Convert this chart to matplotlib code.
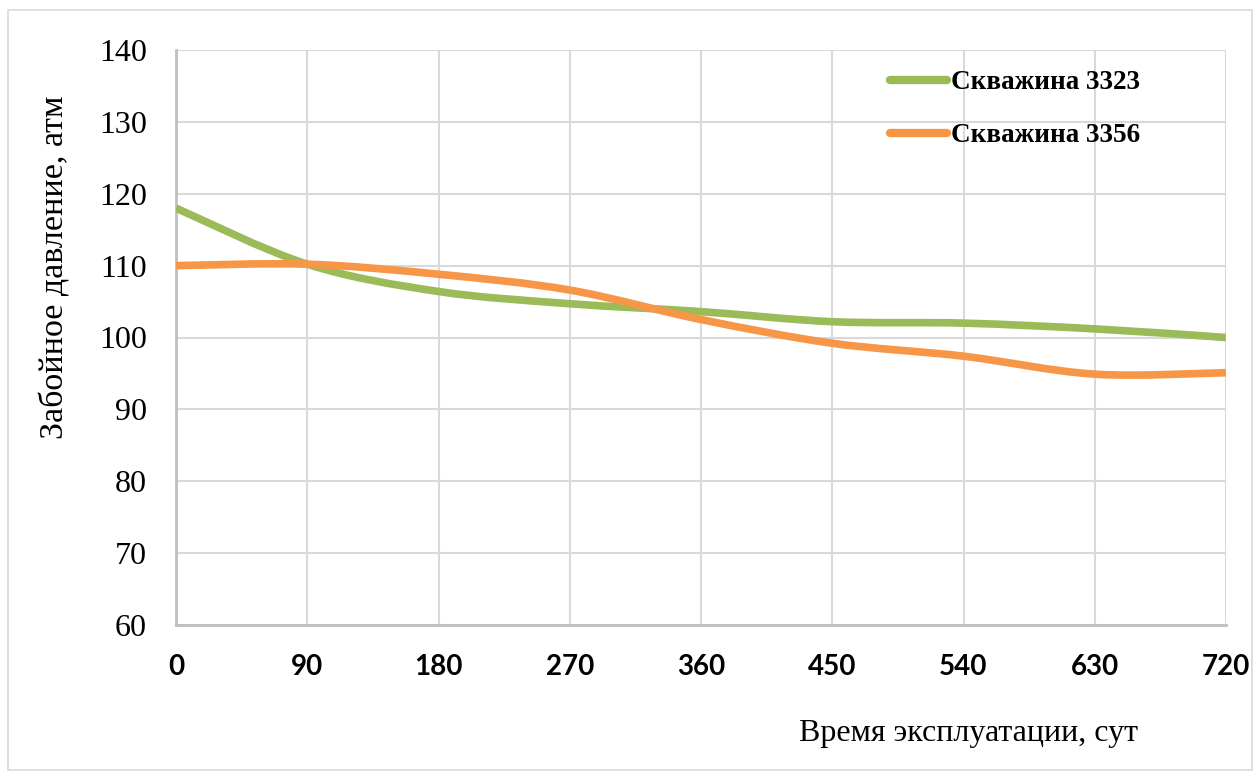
import numpy as np
import matplotlib
matplotlib.use('Agg')
import matplotlib.pyplot as plt
from matplotlib.path import Path
from matplotlib.patches import PathPatch, Rectangle
from matplotlib.lines import Line2D

# time, days
days = [0, 90, 180, 270, 360, 450, 540, 630, 720]
# bottomhole pressure, atm
well_3323 = [118.0, 110.2, 106.4, 104.7, 103.6, 102.2, 102.0, 101.2, 100.0]
well_3356 = [110.0, 110.2, 108.8, 106.6, 102.5, 99.2, 97.4, 94.9, 95.1]
labels = ['Скважина 3323', 'Скважина 3356']
colors = ['#9BBB59', '#F79646']
xticks = [0, 90, 180, 270, 360, 450, 540, 630, 720]
yticks = [60, 70, 80, 90, 100, 110, 120, 130, 140]


def smooth_path(x, y):
    # Excel-like smoothed line: cubic Bezier through each point
    p = np.column_stack([x, y]).astype(float)
    n = len(p)
    verts = [p[0]]
    codes = [Path.MOVETO]
    for i in range(n - 1):
        p0 = p[i - 1] if i > 0 else p[i]
        p3 = p[i + 2] if i + 2 < n else p[i + 1]
        c1 = p[i] + (p[i + 1] - p0) / 6.0
        c2 = p[i + 1] - (p3 - p[i]) / 6.0
        verts += [c1, c2, p[i + 1]]
        codes += [Path.CURVE4] * 3
    return Path(verts, codes)


fig = plt.figure(figsize=(12.6, 7.78), dpi=100, facecolor='white')
ax = fig.add_axes([176/1260, 1 - 625/778, 1050/1260, 575/778])

handles = []
for ys, c, lab in zip([well_3323, well_3356], colors, labels):
    patch = PathPatch(smooth_path(days, ys), facecolor='none', edgecolor=c,
                      lw=5.5, capstyle='butt', joinstyle='round', zorder=3)
    ax.add_patch(patch)
    handles.append(Line2D([], [], color=c, lw=6, solid_capstyle='round'))

ax.set_xlim(0, 720)
ax.set_ylim(60, 140)
ax.set_xticks(xticks)
ax.set_yticks(yticks)
ax.grid(True, color='#D9D9D9', lw=1.5)
ax.set_axisbelow(True)
for s in ['top', 'right']:
    ax.spines[s].set_visible(False)
for s in ['left', 'bottom']:
    ax.spines[s].set_color('#BFBFBF')
    ax.spines[s].set_linewidth(2)
ax.tick_params(length=0)
ax.tick_params(axis='y', pad=21)
ax.tick_params(axis='x', pad=21)
for t in ax.get_yticklabels():
    t.set_fontfamily('Liberation Serif')
    t.set_fontsize(23)
for t in ax.get_xticklabels():
    t.set_fontfamily('Lato')
    t.set_fontweight('bold')
    t.set_fontsize(20)

fig.text(968/1260, 1 - 733/778, 'Время эксплуатации, сут', family='Liberation Serif',
         fontsize=23, ha='center', va='center')
fig.text(55/1260, 1 - 267/778, 'Забойное давление, атм', family='Liberation Serif',
         fontsize=24.5, ha='center', va='center', rotation=90)

leg = fig.legend(handles, labels, loc='upper left', bbox_to_anchor=(866/1260, 1 - 46/778),
                 frameon=False, handlelength=2.1, handletextpad=0.15, labelspacing=1.03,
                 prop={'family': 'Liberation Serif', 'weight': 'bold', 'size': 19.5})

fig.patches.append(Rectangle((8/1260, 8/778), 1244/1260, 760/778, transform=fig.transFigure,
                             fill=False, edgecolor='#D9D9D9', lw=1.2))

fig.savefig('out.png', dpi=100)
